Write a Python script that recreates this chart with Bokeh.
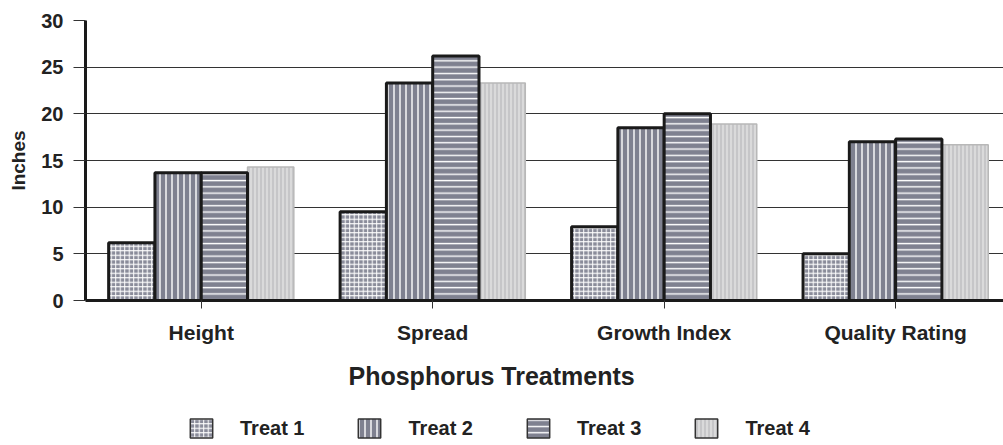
from bokeh.plotting import figure
from bokeh.models import Range1d, FixedTicker, ColumnDataSource, Legend, LegendItem, Title
from bokeh.layouts import column
from bokeh.transform import dodge
from bokeh.embed import file_html
from bokeh.resources import INLINE

categories = ["Height", "Spread", "Growth Index", "Quality Rating"]
treatments = ["Treat 1", "Treat 2", "Treat 3", "Treat 4"]
treat1 = [6.2, 9.5, 7.9, 5.0]
treat2 = [13.7, 23.3, 18.5, 17.0]
treat3 = [13.7, 26.2, 20.0, 17.3]
treat4 = [14.3, 23.3, 18.9, 16.7]
y_ticks = [0, 5, 10, 15, 20, 25, 30]

FONT = "Liberation Sans"
TXT = "#222222"

pos = list(range(len(categories)))
source = ColumnDataSource(dict(pos=pos, t1=treat1, t2=treat2, t3=treat3, t4=treat4))

p = figure(width=1003, height=405,
           x_range=Range1d(-0.5, 3.466), y_range=Range1d(0, 30),
           output_backend="svg", toolbar_location=None,
           min_border_left=85, min_border_top=20, min_border_right=0,
           min_border_bottom=105)
p.outline_line_color = None
p.background_fill_color = "white"
p.border_fill_color = "white"

styles = {
    "t1": dict(offset=-0.3, fill_color="#8a8c9a", hatch_pattern="+", hatch_color="white",
               hatch_scale=4.5, hatch_weight=1.0, line_color="#1a1a1a"),
    "t2": dict(offset=-0.1, fill_color="#7f8190", hatch_pattern="|", hatch_color="white",
               hatch_scale=6.0, hatch_weight=1.4, line_color="#1a1a1a"),
    "t3": dict(offset=0.1, fill_color="#7f8190", hatch_pattern="-", hatch_color="white",
               hatch_scale=6.3, hatch_weight=1.4, line_color="#1a1a1a"),
    "t4": dict(offset=0.3, fill_color="#c6c6c8", hatch_pattern="|", hatch_color="#e2e2e2",
               hatch_scale=4.0, hatch_weight=1.4, line_color="#b8b8b8"),
}

for key in ["t4", "t1", "t2", "t3"]:
    s = styles[key]
    lw = 1.5 if key == "t4" else 3
    p.vbar(x=dodge("pos", s["offset"], range=p.x_range), top=key, width=0.2, source=source,
           fill_color=s["fill_color"], hatch_pattern=s["hatch_pattern"],
           hatch_color=s["hatch_color"], hatch_scale=s["hatch_scale"],
           hatch_weight=s["hatch_weight"], line_color=s["line_color"], line_width=lw)

# axes
yax = p.yaxis[0]
yax.ticker = FixedTicker(ticks=y_ticks)
yax.axis_line_width = 3
yax.axis_line_color = "#1a1a1a"
yax.major_tick_out = 12
yax.major_tick_in = 0
yax.major_tick_line_color = "#333333"
yax.minor_tick_line_color = None
yax.major_label_standoff = 10
yax.major_label_text_font = FONT
yax.major_label_text_font_style = "bold"
yax.major_label_text_font_size = "20px"
yax.major_label_text_color = TXT
yax.axis_label = "Inches"
yax.axis_label_text_font = FONT
yax.axis_label_text_font_style = "bold"
yax.axis_label_text_font_size = "19px"
yax.axis_label_text_color = TXT
yax.axis_label_standoff = 9

xax = p.xaxis[0]
xax.ticker = FixedTicker(ticks=pos)
xax.major_label_overrides = {i: c for i, c in enumerate(categories)}
xax.axis_line_width = 3
xax.axis_line_color = "#1a1a1a"
xax.major_tick_out = 8
xax.major_tick_in = 0
xax.major_tick_line_color = "#333333"
xax.minor_tick_line_color = None
xax.major_label_standoff = 12
xax.major_label_text_font = FONT
xax.major_label_text_font_style = "bold"
xax.major_label_text_font_size = "21px"
xax.major_label_text_color = TXT

xtitle = Title(text="Phosphorus Treatments", align="left", offset=263, standoff=27,
               text_font=FONT, text_font_style="bold", text_font_size="25px",
               text_color=TXT)
p.add_layout(xtitle, "below")

p.xgrid.grid_line_color = None
p.ygrid.ticker = FixedTicker(ticks=y_ticks)
p.ygrid.grid_line_color = "#333333"
p.ygrid.grid_line_width = 1

# legend strip (its renderers are hidden; only the legend shows)
lg = figure(width=1003, height=40, x_range=Range1d(100, 101), y_range=Range1d(-100, -99),
            output_backend="svg", toolbar_location=None,
            x_axis_location=None, y_axis_location=None, min_border=0)
lg.outline_line_color = None
lg.xgrid.grid_line_color = None
lg.ygrid.grid_line_color = None
items = []
for i, key in enumerate(["t1", "t2", "t3", "t4"]):
    s = styles[key]
    r = lg.vbar(x=dodge("pos", s["offset"], range=lg.x_range), top=key, width=0.2,
                source=source,
                fill_color=s["fill_color"], hatch_pattern=s["hatch_pattern"],
                hatch_color=s["hatch_color"], hatch_scale=s["hatch_scale"],
                hatch_weight=s["hatch_weight"], line_color="#333333", line_width=1.5)
    r.visible = False
    items.append(LegendItem(label=treatments[i], renderers=[r]))

legend = Legend(items=items, orientation="horizontal", location=(102, 5),
                glyph_width=28, glyph_height=24, label_standoff=25, spacing=51,
                padding=0, margin=0, border_line_color=None, background_fill_alpha=0,
                inactive_fill_alpha=0,
                label_text_font=FONT, label_text_font_style="bold",
                label_text_font_size="20px", label_text_color=TXT)
lg.add_layout(legend)

layout = column(p, lg, spacing=0)
open("out.html", "w").write(file_html(layout, INLINE))
